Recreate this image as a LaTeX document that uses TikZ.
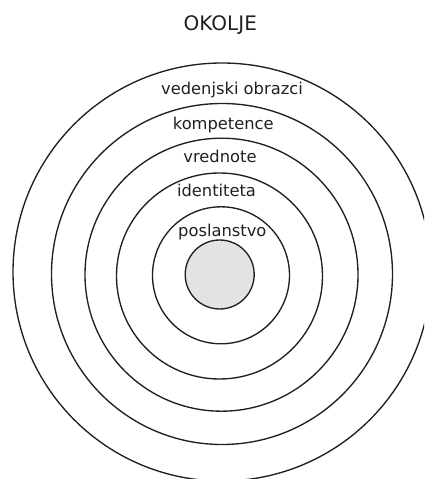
\documentclass[tikz,border=0pt]{standalone}
\usepackage{fontspec}
\setmainfont{DejaVu Sans}
\usepackage{tikz}
\usetikzlibrary{positioning,calc}
\definecolor{coregray}{HTML}{E2E3E5}
\definecolor{inkgray}{HTML}{231F20}

\begin{document}
\begin{tikzpicture}[
  x=1pt, y=1pt,
  ring/.style={circle, draw=inkgray, line width=1.35pt, inner sep=0pt, outer sep=0pt},
  corering/.style={ring, fill=coregray},
  ringlabel/.style={font=\fontsize{16.3}{19}\selectfont, text=inkgray, anchor=base, inner sep=0pt},
  envlabel/.style={ringlabel, font=\fontsize{20}{24}\selectfont}
]
  \useasboundingbox (0,0) rectangle (424,479);
  \clip (0,0) rectangle (424,479);

  % Rings, outermost first
  \foreach \nm/\cx/\cy/\dia in {ring5/222/207/418, ring4/222/205/341,
                                ring3/221.5/204.3/273, ring2/219.5/203/206,
                                ring1/221/203.7/137}{
    \node[ring, minimum size=\dia pt] (\nm) at (\cx,\cy) {};
  }
  \node[corering, minimum size=69pt] (core) at (219.7,204.5) {};

  % Labels
  \node[envlabel] (env) at ([xshift=-1.7pt, yshift=32.3pt]ring5.north) {OKOLJE};
  \node[ringlabel] (lab5) at ([xshift=10pt, yshift=-32pt]ring5.north) {vedenjski obrazci};
  \node[ringlabel] (lab4) at ([xshift=1.3pt, yshift=-25.8pt]ring4.north) {kompetence};
  \node[ringlabel] (lab3) at ([xshift=-1.5pt, yshift=-24.8pt]ring3.north) {vrednote};
  \node[ringlabel] (lab2) at ([xshift=-3pt, yshift=-23.7pt]ring2.north) {identiteta};
  \node[ringlabel] (lab1) at ([xshift=1.3pt, yshift=-30.2pt]ring1.north) {poslanstvo};
\end{tikzpicture}
\end{document}
